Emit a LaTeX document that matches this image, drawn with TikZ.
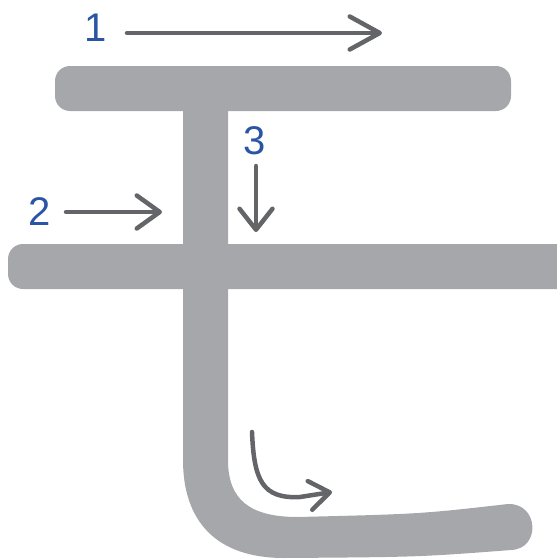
\documentclass[tikz,border=0pt]{standalone}
\usepackage{fontspec}
\setmainfont{Liberation Sans}
\usetikzlibrary{arrows.meta}
\definecolor{barc}{HTML}{A6A7AA}
\definecolor{arrc}{HTML}{646569}
\definecolor{numc}{HTML}{2A55A5}
\tikzset{
  bar/.style={fill=barc, draw=none, rounded corners=15pt},
  guide/.style={draw=arrc, line width=4.5pt, line cap=round},
  num/.style={text=numc, font=\fontsize{40}{40}\selectfont, inner sep=0pt},
}
\begin{document}
\begin{tikzpicture}[x=1pt,y=-1pt]
\useasboundingbox (0,0) rectangle (557,560);
\clip (0,0) rectangle (557,560);
% strokes
\path[bar] (55,66) rectangle (511,111);
\path[bar] (8,244) rectangle (575,289);
\fill[barc] (183,105) -- (183,460)
  .. controls (183,520) and (215,558) .. (284,558)
  .. controls (420,557) .. (511,550)
  .. controls (541,549) and (539,503) .. (508,504)
  .. controls (420,514) .. (298,517)
  .. controls (250,517) and (228,500) .. (228,460)
  -- (228,105) -- cycle;
% numbers
\node[num] (n1) at (96,28) {1};
\node[num] (n2) at (40,212) {2};
\node[num] (n3) at (255,141) {3};
% guide arrows
\coordinate (a1s) at (127,33); \coordinate (a1e) at (382,33);
\coordinate (a2s) at (66,212); \coordinate (a2e) at (162,212);
\coordinate (a3s) at (256,166); \coordinate (a3e) at (256,232);
\coordinate (a4s) at (252,432); \coordinate (a4e) at (332,492);
\draw[guide, -{Straight Barb[length=30pt,width=33pt,round]}] (a1s) -- (a1e);
\draw[guide, -{Straight Barb[length=23pt,width=33pt,round]}] (a2s) -- (a2e);
\draw[guide, -{Straight Barb[length=21pt,width=33pt,round]}] (a3s) -- (a3e);
\draw[guide, -{Straight Barb[length=20pt,width=29pt,round]}] (a4s)
  .. controls (254,480) and (262,499) .. (300,497) -- (a4e);
\end{tikzpicture}
\end{document}
